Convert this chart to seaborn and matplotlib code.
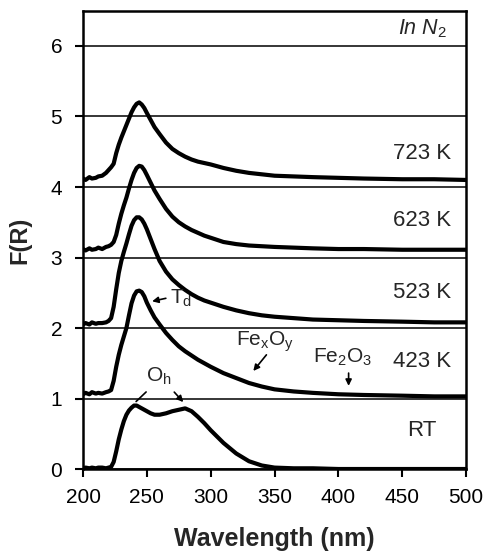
import numpy as np
import pandas as pd
import matplotlib
matplotlib.use("Agg")
import matplotlib.pyplot as plt
import seaborn as sns

# ---------------- data ----------------
wavelength = [200, 202, 205, 207, 210, 212, 215, 218, 220, 222, 224, 226, 228, 230,
              232, 234, 236, 238, 240, 242, 244, 246, 248, 250, 253, 256, 260, 265,
              270, 275, 280, 285, 290, 295, 300, 310, 320, 330, 340, 350, 365, 380,
              400, 420, 450, 475, 500]

rt = [0.01, 0.02, 0.01, 0.02, 0.01, 0.02, 0.02, 0.01, 0.02, 0.03, 0.10, 0.25, 0.42, 0.56,
      0.68, 0.77, 0.83, 0.87, 0.90, 0.90, 0.88, 0.86, 0.84, 0.82, 0.79, 0.77, 0.77, 0.79,
      0.82, 0.84, 0.86, 0.82, 0.74, 0.65, 0.55, 0.37, 0.22, 0.11, 0.05, 0.02, 0.01, 0.01,
      0.00, 0.00, 0.00, 0.00, 0.00]

k423 = [1.06, 1.08, 1.06, 1.09, 1.07, 1.08, 1.07, 1.09, 1.10, 1.12, 1.25, 1.45, 1.62, 1.76,
        1.88, 2.00, 2.18, 2.35, 2.46, 2.52, 2.53, 2.51, 2.45, 2.36, 2.25, 2.15, 2.05, 1.93,
        1.83, 1.74, 1.67, 1.61, 1.55, 1.50, 1.45, 1.36, 1.29, 1.22, 1.17, 1.13, 1.10, 1.08,
        1.06, 1.05, 1.04, 1.03, 1.03]

k523 = [2.05, 2.07, 2.05, 2.08, 2.06, 2.07, 2.07, 2.08, 2.10, 2.14, 2.30, 2.55, 2.78, 2.95,
        3.08, 3.20, 3.33, 3.45, 3.53, 3.57, 3.57, 3.54, 3.48, 3.40, 3.26, 3.12, 2.95, 2.80,
        2.69, 2.61, 2.54, 2.48, 2.43, 2.39, 2.36, 2.30, 2.25, 2.21, 2.18, 2.16, 2.14, 2.12,
        2.11, 2.10, 2.09, 2.08, 2.08]

k623 = [3.12, 3.10, 3.13, 3.11, 3.12, 3.14, 3.12, 3.15, 3.16, 3.18, 3.22, 3.32, 3.48, 3.62,
        3.74, 3.85, 3.98, 4.10, 4.20, 4.27, 4.30, 4.29, 4.24, 4.17, 4.06, 3.95, 3.83, 3.69,
        3.58, 3.50, 3.44, 3.39, 3.35, 3.31, 3.28, 3.22, 3.19, 3.17, 3.16, 3.15, 3.14, 3.13,
        3.12, 3.12, 3.11, 3.11, 3.11]

k723 = [4.12, 4.10, 4.14, 4.12, 4.13, 4.15, 4.16, 4.20, 4.24, 4.28, 4.33, 4.48, 4.60, 4.70,
        4.79, 4.88, 4.97, 5.06, 5.13, 5.18, 5.20, 5.17, 5.12, 5.05, 4.95, 4.85, 4.75, 4.63,
        4.54, 4.48, 4.43, 4.39, 4.36, 4.34, 4.32, 4.27, 4.23, 4.20, 4.18, 4.16, 4.15, 4.14,
        4.13, 4.12, 4.11, 4.11, 4.10]

series_names = ["RT", "423 K", "523 K", "623 K", "723 K"]
series_values = [rt, k423, k523, k623, k723]
label_y = [0.55, 1.52, 2.51, 3.53, 4.48]

x_ticks = [200, 250, 300, 350, 400, 450, 500]
y_ticks = [0, 1, 2, 3, 4, 5, 6]

# ---------------- plotting ----------------
sns.set_style("ticks")
plt.rcParams["font.family"] = ["Liberation Sans", "DejaVu Sans"]
plt.rcParams["mathtext.fontset"] = "custom"
plt.rcParams["mathtext.rm"] = "Liberation Sans"
plt.rcParams["mathtext.it"] = "Liberation Sans:italic"

df = pd.concat([pd.DataFrame({"Wavelength": wavelength, "F": v, "Sample": n})
                for n, v in zip(series_names, series_values)], ignore_index=True)

fig = plt.figure(figsize=(4.84, 5.51), dpi=100)
ax = fig.add_axes([0.1715, 0.1488, 0.7915, 0.8317])

for y in y_ticks:
    ax.axhline(y, color="black", lw=1.1, zorder=1)

sns.lineplot(data=df, x="Wavelength", y="F", hue="Sample",
             palette=["black"] * len(series_names), lw=3.0, legend=False,
             ax=ax, zorder=3)

ax.set_xlim(200, 500)
ax.set_ylim(0, 6.5)
ax.set_xticks(x_ticks)
ax.set_yticks(y_ticks)
ax.tick_params(axis="both", direction="out", length=6, width=1.5,
               labelsize=15, colors="black")
ax.tick_params(axis="x", pad=8)
ax.tick_params(axis="y", pad=9)
for s in ax.spines.values():
    s.set_visible(True)
    s.set_linewidth(1.8)
    s.set_color("black")

ax.set_xlabel("Wavelength (nm)", fontsize=18, fontweight="bold", labelpad=14)
ax.set_ylabel("F(R)", fontsize=17, fontweight="bold", labelpad=14)

for name, yv in zip(series_names, label_y):
    ax.text(465.5, yv, name, ha="center", va="center", fontsize=16)
ax.text(465.5, 6.25, r"$In\ N_2$", ha="center", va="center", fontsize=15.5)

# annotations
arrow = dict(arrowstyle="-|>", color="black", lw=1.2, mutation_scale=9)
ax.text(268, 2.42, "T$_\\mathrm{d}$", fontsize=15, va="center", ha="left")
ax.annotate("", xy=(252, 2.37), xytext=(267, 2.43), arrowprops=arrow)
ax.text(320, 1.80, "Fe$_\\mathrm{x}$O$_\\mathrm{y}$", fontsize=15, va="center", ha="left")
ax.annotate("", xy=(332, 1.36), xytext=(345, 1.65), arrowprops=arrow)
ax.text(380, 1.58, "Fe$_\\mathrm{2}$O$_\\mathrm{3}$", fontsize=15, va="center", ha="left")
ax.annotate("", xy=(408, 1.14), xytext=(408, 1.40), arrowprops=arrow)
ax.text(259, 1.31, "O$_\\mathrm{h}$", fontsize=15, va="center", ha="center")
ax.annotate("", xy=(240, 0.93), xytext=(251, 1.12),
            arrowprops=dict(arrowstyle="-", color="black", lw=1.2))
ax.annotate("", xy=(280, 0.92), xytext=(270, 1.12), arrowprops=arrow)

fig.savefig("out.png", dpi=100)
